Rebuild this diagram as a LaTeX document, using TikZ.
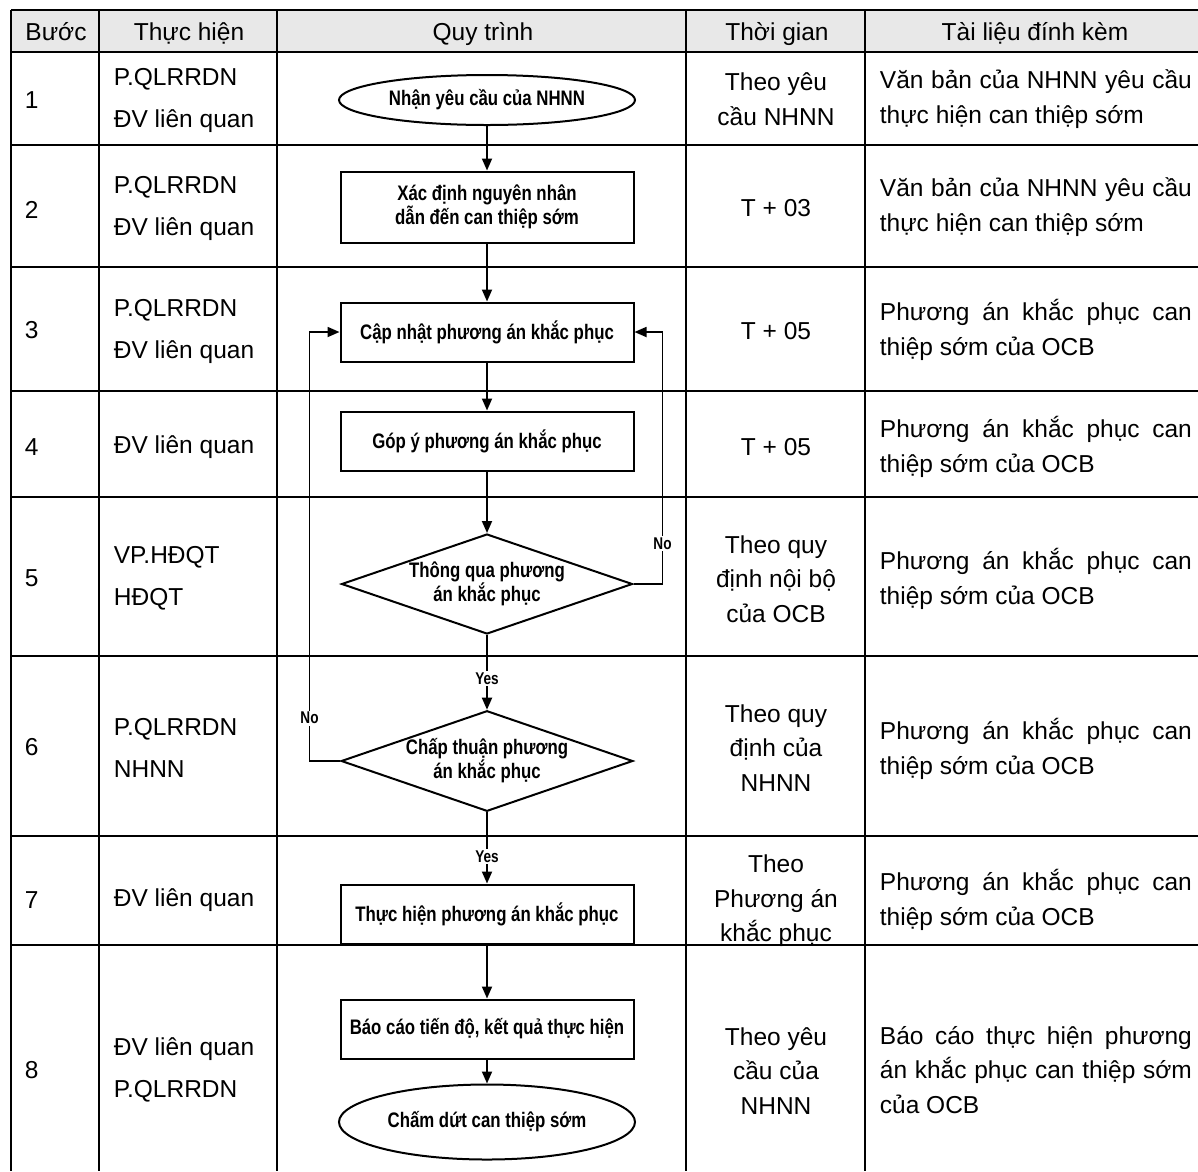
\documentclass[tikz,border=0pt]{standalone}
\usepackage{fontspec}
\setmainfont{Liberation Sans}
\newfontfamily\flowfont[FakeStretch=0.8]{Liberation Sans}
\usetikzlibrary{arrows.meta, positioning, shapes.geometric}
\tikzset{
    flowchart/.style={>={Triangle[length=12pt, width=10pt]}, line width=1.8pt},
    tabline/.style={line width=1.5pt},
    cell/.style={inner sep=0pt, font=\fontsize{24.5}{34.5}\selectfont},
    head/.style={cell, anchor=base},
    stepno/.style={cell, anchor=west},
    who/.style={cell, anchor=west, align=left, font=\fontsize{24.5}{42}\selectfont},
    when/.style={cell, align=center},
    docs/.style={cell, anchor=west, align=justify, text width=312pt},
    procbox/.style={draw, line width=2pt, minimum width=293pt, minimum height=59pt, align=center,
        font=\flowfont\bfseries\fontsize{21}{22}\selectfont},
    term/.style={procbox, ellipse, inner sep=0pt, minimum width=296pt, minimum height=50pt},
    decision/.style={procbox, diamond, aspect=2.9, inner sep=0pt, minimum width=291pt, minimum height=100pt},
    % Yes / No labels sit on the connector and break it
    yesno/.style={fill=white, inner sep=1.5pt, font=\flowfont\bfseries\fontsize{17}{17}\selectfont},
}
\begin{document}
\begin{tikzpicture}[x=1pt, y=-1pt, flowchart]
    \useasboundingbox (0,0) rectangle (1198,1171);

    % table
    \fill[gray!18] (11,10) rectangle (1198,52);
    \draw[tabline] (11,10) -- (1198,10)  (11,52) -- (1198,52)  (11,145) -- (1198,145)
        (11,267) -- (1198,267)  (11,391) -- (1198,391)  (11,497) -- (1198,497)
        (11,656) -- (1198,656)  (11,836) -- (1198,836)  (11,945) -- (1198,945);
    \draw[tabline] (11,10) -- (11,1171)  (99,10) -- (99,1171)  (277,10) -- (277,1171)
        (686,10) -- (686,1171)  (865,10) -- (865,1171);

    \node[head] (hstep) at (56,40)   {Bước};
    \node[head] (hwho)  at (189,40)  {Thực hiện};
    \node[head] (hflow) at (483,40)  {Quy trình};
    \node[head] (htime) at (777,40)  {Thời gian};
    \node[head] (hdocs) at (1035,40) {Tài liệu đính kèm};

    \node[stepno] (s1) at (24,100)  {1};
    \node[stepno] (s2) at (24,210)  {2};
    \node[stepno] (s3) at (24,330)  {3};
    \node[stepno] (s4) at (24,447)  {4};
    \node[stepno] (s5) at (24,578)  {5};
    \node[stepno] (s6) at (24,747)  {6};
    \node[stepno] (s7) at (24,900)  {7};
    \node[stepno] (s8) at (24,1070) {8};

    \node[who] (w1) at (113,100)  {P.QLRRDN\\ĐV liên quan};
    \node[who] (w2) at (113,208)  {P.QLRRDN\\ĐV liên quan};
    \node[who] (w3) at (113,331)  {P.QLRRDN\\ĐV liên quan};
    \node[who] (w4) at (113,447)  {ĐV liên quan};
    \node[who] (w5) at (113,578)  {VP.HĐQT\\HĐQT};
    \node[who] (w6) at (113,748)  {P.QLRRDN\\NHNN};
    \node[who] (w7) at (113,900)  {ĐV liên quan};
    \node[who] (w8) at (113,1070) {ĐV liên quan\\P.QLRRDN};

    \node[when] (t1) at (776,99)   {Theo yêu\\cầu NHNN};
    \node[when] (t2) at (776,208)  {T + 03};
    \node[when] (t3) at (776,331)  {T + 05};
    \node[when] (t4) at (776,447)  {T + 05};
    \node[when] (t5) at (776,579)  {Theo quy\\định nội bộ\\của OCB};
    \node[when] (t6) at (776,748)  {Theo quy\\định của\\NHNN};
    \node[when] (t7) at (776,901)  {Theo\\Phương án\\khắc phục};
    \node[when] (t8) at (776,1071) {Theo yêu\\cầu của\\NHNN};

    \node[docs] (d1) at (879,99)   {Văn bản của NHNN yêu cầu\linebreak thực hiện can thiệp sớm};
    \node[docs] (d2) at (879,207)  {Văn bản của NHNN yêu cầu\linebreak thực hiện can thiệp sớm};
    \node[docs] (d3) at (879,330)  {Phương án khắc phục can\linebreak thiệp sớm của OCB};
    \node[docs] (d4) at (879,447)  {Phương án khắc phục can\linebreak thiệp sớm của OCB};
    \node[docs] (d5) at (879,579)  {Phương án khắc phục can\linebreak thiệp sớm của OCB};
    \node[docs] (d6) at (879,749)  {Phương án khắc phục can\linebreak thiệp sớm của OCB};
    \node[docs] (d7) at (879,900)  {Phương án khắc phục can\linebreak thiệp sớm của OCB};
    \node[docs] (d8) at (879,1070) {Báo cáo thực hiện phương\linebreak án khắc phục can thiệp sớm\linebreak của OCB};

    % flow
    \node[term]                         (recv)   at (487,100)  {Nhận yêu cầu của NHNN};
    \node[procbox, minimum height=71pt] (cause)  at (487,207)  {Xác định nguyên nhân\\dẫn đến can thiệp sớm};
    \node[procbox]                      (update) at (487,332)  {Cập nhật phương án khắc phục};
    \node[procbox]                      (review) at (487,441)  {Góp ý phương án khắc phục};
    \node[decision]                     (board)  at (487,584)  {Thông qua phương\\án khắc phục};
    \node[decision]                     (sbv)    at (487,761)  {Chấp thuận phương\\án khắc phục};
    \node[procbox]                      (exec)   at (487,914)  {Thực hiện phương án khắc phục};
    \node[procbox]                      (report) at (487,1029) {Báo cáo tiến độ, kết quả thực hiện};
    \node[term, minimum height=75pt]    (stop)   at (487,1122) {Chấm dứt can thiệp sớm};

    \draw[->] (recv) -- (cause);
    \draw[->] (cause) -- (update);
    \draw[->] (update) -- (review);
    \draw[->] (review) -- (board);
    \draw[->] (board) -- node[yesno, pos=0.58] {Yes} (sbv);
    \draw[->] (sbv) -- node[yesno, pos=0.62] {Yes} (exec);
    \draw[->] (exec) -- (report);
    \draw[->] (report) -- (stop);
    \draw[->] (board.east) -| node[yesno, pos=0.58] {No} ([xshift=28pt]update.east) -- (update.east);
    \draw[->] (sbv.west) -| node[yesno, pos=0.55] {No} ([xshift=-30pt]update.west) -- (update.west);
\end{tikzpicture}
\end{document}
